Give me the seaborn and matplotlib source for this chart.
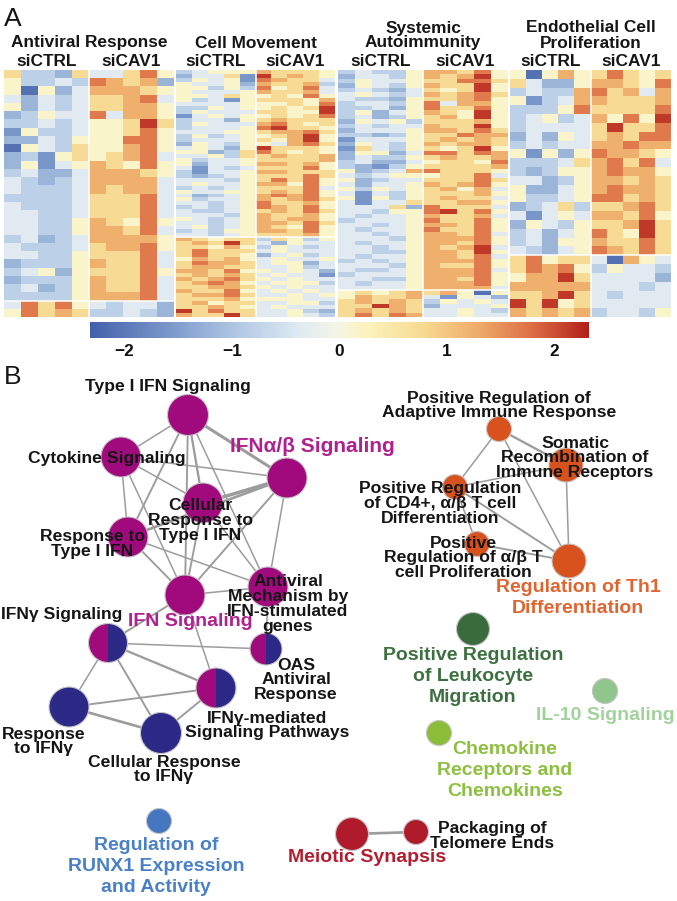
import matplotlib
matplotlib.use("Agg")
import numpy as np
import pandas as pd
import matplotlib.pyplot as plt
import seaborn as sns
from matplotlib.colors import LinearSegmentedColormap
from matplotlib.patches import Circle, Wedge

# ============================ DATA ============================
# z-score levels; each heat-map cell is written as one digit (0..9)
LEVELS = [-2.1, -1.6, -1.2, -0.8, -0.35, 0.15, 0.75, 1.25, 1.7, 2.15]
CONDITIONS = ["siCTRL", "siCAV1"]
REPLICATES = 5
CBAR_TICKS = [-2, -1, 0, 1, 2]
CBAR_LABELS = ["\u22122", "\u22121", "0", "1", "2"]

ANTIVIRAL_TITLE = ["Antiviral Response"]
ANTIVIRAL_MAIN = [
    "6332644685", "5334387672", "5052477765", "4243466784", "5243466775",
    "2354484775", "3343455696", "1533455685", "2243555885", "0543655785",
    "2315656784", "2514576585", "3422477765", "4323477774", "4333476774",
    "3333466684", "4333466684", "4433466684", "4433576585", "4433577684",
    "3423477775", "4333467785", "4433566684", "2333576684", "3452566685",
    "2333576684", "3423576684", "3333577784"]
ANTIVIRAL_LOW = ["4868543442", "5867633432"]

MOVEMENT_TITLE = ["Cell Movement"]
MOVEMENT_MAIN = [
    "3455576665", "2446196765", "3545187664", "5445276673", "5535385684",
    "5444576674", "5546556585", "5341566657", "4444555658", "3354556569",
    "3544466559", "1454556568", "3442567666", "3544478656", "3444589665",
    "4445567786", "3534556795", "3444565795", "2543554786", "4542596665",
    "5523686565", "4453667667", "5344566667", "5244577675", "4143466685",
    "3144577666", "3234566686", "4443568685", "4544577585", "3434566684",
    "5445567685", "4234578785", "5344576786", "4434586675", "3434587685",
    "4334567686", "4443576675", "5434576775", "4434577686", "4534576585",
    "3435577685", "4434566675"]
MOVEMENT_LOW = [
    "7656636535", "6769642544", "6657535434", "6866645444", "6866524534",
    "5767545445", "6877645524", "6776644534", "7768554542", "6767645441",
    "7678654544", "6787545553", "6677654544", "7668545454", "6778644545",
    "6667555544", "6756644553", "6676545444", "9686644532", "7669644543"]

AUTOIMMUNITY_TITLE = ["Systemic", "Autoimmunity"]
AUTOIMMUNITY_MAIN = [
    "3433577685", "2443576795", "3544566886", "2543576695", "3432465695",
    "4543476786", "4332566785", "3443584775", "3342586685", "3524576595",
    "3423567595", "2545366675", "3434476695", "2444577686", "3323566877",
    "1444567676", "2543576776", "1643565695", "2552488687", "2433567667",
    "3422456658", "3213566667", "5234786665", "4345556684", "5234466686",
    "4244576785", "5354567574", "4143566675", "5153567664", "4144666775",
    "4446286664", "4435589685", "4344576674", "3444586685", "4434577685",
    "4344586685", "4434577684", "4443577785", "4344577685", "4434576794",
    "4433577695", "4344577684", "3434577785", "4443576685", "4334577784",
    "3444577785", "4433577685", "4344577785", "4444577774"]
AUTOIMMUNITY_LOW = ["5656767505", "5766741542", "6767635454",
                    "6697624445", "6767644543", "6868744544"]

ENDOTHELIAL_TITLE = ["Endothelial Cell", "Proliferation"]
ENDOTHELIAL_MAIN = [
    "5057568656", "6422577658", "3433786747", "5134776667", "3335866668",
    "3453475859", "3444469668", "2425467688", "3434477877", "5152587765",
    "3334678684", "3235578775", "4423577676", "5224578776", "5334588676",
    "2346366786", "4145477685", "2543566796", "3424586596", "3425576686",
    "4324587686"]
ENDOTHELIAL_LOW = ["6856640754", "6878535443", "5779644442", "7777744434",
                   "6679643444", "9695644444", "7676734435"]

# ---- network (panel B) ----
NET_NODES = ["T1", "CYT", "IFNAB", "CRT1", "RT1", "IFNS", "AVM", "IFNG", "OAS",
             "IFNGM", "RIFNG", "CRIFNG", "PRAIR", "SRIR", "CD4", "ABP", "TH1",
             "LEUK", "IL10", "CHEMO", "RUNX1", "MEIO", "TELO"]
NET_GROUP = {"T1": "ifn", "CYT": "ifn", "IFNAB": "ifn", "CRT1": "ifn", "RT1": "ifn",
             "IFNS": "ifn", "AVM": "ifn", "IFNG": "mix", "OAS": "mix", "IFNGM": "mix",
             "RIFNG": "ifng", "CRIFNG": "ifng", "PRAIR": "th1", "SRIR": "th1",
             "CD4": "th1", "ABP": "th1", "TH1": "th1", "LEUK": "leuk", "IL10": "il10",
             "CHEMO": "chemo", "RUNX1": "runx1", "MEIO": "meio", "TELO": "meio"}
NET_LABEL = {
    "T1": ["Type I IFN Signaling"],
    "CYT": ["Cytokine Signaling"],
    "IFNAB": ["IFN\u03b1/\u03b2 Signaling"],
    "CRT1": ["Cellular", "Response to", "Type I IFN"],
    "RT1": ["Response to", "Type I IFN"],
    "IFNS": ["IFN Signaling"],
    "AVM": ["Antiviral", "Mechanism by", "IFN-stimulated", "genes"],
    "IFNG": ["IFN\u03b3 Signaling"],
    "OAS": ["OAS", "Antiviral", "Response"],
    "IFNGM": ["IFN\u03b3-mediated", "Signaling Pathways"],
    "RIFNG": ["Response", "to IFN\u03b3"],
    "CRIFNG": ["Cellular Response", "to IFN\u03b3"],
    "PRAIR": ["Positive Regulation of", "Adaptive Immune Response"],
    "SRIR": ["Somatic", "Recombination of", "Immune Receptors"],
    "CD4": ["Positive Regulation", "of CD4+, \u03b1/\u03b2 T cell", "Differentiation"],
    "ABP": ["Positive", "Regulation of \u03b1/\u03b2 T", "cell Proliferation"],
    "TH1": ["Regulation of Th1", "Differentiation"],
    "LEUK": ["Positive Regulation", "of Leukocyte", "Migration"],
    "IL10": ["IL-10 Signaling"],
    "CHEMO": ["Chemokine", "Receptors and", "Chemokines"],
    "RUNX1": ["Regulation of", "RUNX1 Expression", "and Activity"],
    "MEIO": ["Meiotic Synapsis"],
    "TELO": ["Packaging of", "Telomere Ends"],
}
# cluster-name labels (coloured) vs. ordinary member labels (black)
CLUSTER_LABELS = ["IFNAB", "IFNS", "TH1", "LEUK", "IL10", "CHEMO", "RUNX1", "MEIO"]
# edges with similarity strength class (1 weak .. 3.5 strong)
NET_EDGES = [
    ("T1", "CYT", 1), ("T1", "IFNAB", 3), ("T1", "CRT1", 2), ("T1", "RT1", 1.5),
    ("T1", "IFNS", 1.5), ("T1", "AVM", 1), ("CYT", "IFNAB", 1), ("CYT", "RT1", 1),
    ("CYT", "IFNS", 1), ("CYT", "CRT1", 1), ("IFNAB", "CRT1", 3.5), ("IFNAB", "RT1", 2.5),
    ("IFNAB", "IFNS", 1.5), ("IFNAB", "AVM", 1), ("CRT1", "IFNS", 1.5), ("CRT1", "AVM", 1),
    ("RT1", "IFNS", 1.5), ("RT1", "AVM", 1), ("IFNS", "AVM", 1), ("IFNS", "IFNG", 1.5),
    ("IFNS", "IFNGM", 1), ("AVM", "OAS", 1), ("IFNG", "OAS", 1), ("IFNG", "IFNGM", 2),
    ("IFNG", "RIFNG", 1), ("IFNG", "CRIFNG", 1.5), ("RIFNG", "IFNGM", 1.5),
    ("RIFNG", "CRIFNG", 2.5), ("CRIFNG", "IFNGM", 1.5),
    ("PRAIR", "SRIR", 2), ("PRAIR", "CD4", 1), ("PRAIR", "TH1", 1), ("SRIR", "TH1", 1),
    ("SRIR", "CD4", 1), ("CD4", "TH1", 1.5), ("CD4", "ABP", 1), ("ABP", "TH1", 1.5),
    ("MEIO", "TELO", 2.5),
]

# ============================ LAYOUT / STYLE ============================
W, H = 677, 901
HEAT_X = [(4, 174), (176, 335), (338, 508), (510, 671)]
HEAT_Y = (70, 317)
CBAR_BOX = (90, 322, 589, 338)
# node centre (x, y) and radius in pixels
NODE_POS = {
    "T1": (188, 415, 20.5), "CYT": (121, 457, 20), "IFNAB": (287, 478, 20),
    "CRT1": (203, 503, 20), "RT1": (128, 537, 20), "IFNS": (185, 595, 20),
    "AVM": (268, 587, 20), "IFNG": (108, 643, 19.5), "OAS": (266, 649, 16),
    "IFNGM": (216, 688, 20), "RIFNG": (69, 707, 20), "CRIFNG": (161, 733, 20.5),
    "PRAIR": (499, 429, 12.5), "SRIR": (566, 465, 17), "CD4": (455, 487, 12.5),
    "ABP": (477, 544, 12.5), "TH1": (569, 561, 17), "LEUK": (473, 629, 16.5),
    "IL10": (605, 691, 12.5), "CHEMO": (439, 733, 12.5), "RUNX1": (159, 821, 12.5),
    "MEIO": (352, 834, 16.5), "TELO": (416, 832, 12.5),
}
# label centre x, first-line centre y
LABEL_POS = {
    "T1": (168, 387), "CYT": (107, 458), "IFNAB": (312, 446), "CRT1": (200, 506),
    "RT1": (92, 537), "IFNS": (190, 622), "AVM": (288, 582), "IFNG": (62, 614),
    "OAS": (296, 665), "IFNGM": (267, 718), "RIFNG": (44, 734), "CRIFNG": (164, 762),
    "PRAIR": (499, 398), "SRIR": (575, 443), "CD4": (440, 489), "ABP": (463, 543),
    "TH1": (578, 588), "LEUK": (473, 656), "IL10": (605, 716), "CHEMO": (505, 750),
    "RUNX1": (156, 846), "MEIO": (367, 858), "TELO": (492, 829),
}
NODE_COLOR = {"ifn": "#a00a7c", "ifng": "#2c2a86", "th1": "#d8521e", "leuk": "#3a6b3c",
              "il10": "#90c68b", "chemo": "#8bbd38", "runx1": "#4577c0", "meio": "#b01b2b"}
LABEL_COLOR = {"ifn": "#b0208e", "th1": "#e0642f", "leuk": "#3d7040", "il10": "#a2d29c",
               "chemo": "#8dc041", "runx1": "#4a80c6", "meio": "#b51d2e"}

sns.set_theme(style="white")
plt.rcParams["font.family"] = ["Liberation Sans", "DejaVu Sans"]

cmap = LinearSegmentedColormap.from_list(
    "heat",
    [(0.00, "#4361ab"), (0.15, "#7895c9"), (0.28, "#abc3e1"), (0.41, "#dce8f2"),
     (0.49, "#f4f5e8"), (0.55, "#fcf3c0"), (0.67, "#f7d991"), (0.78, "#eeab69"),
     (0.89, "#dc6c43"), (1.00, "#b2201b")])
VMIN, VMAX = -2.32, 2.32

fig = plt.figure(figsize=(W / 100, H / 100), dpi=100)


def px_axes(x0, y0, x1, y1):
    return fig.add_axes([x0 / W, 1 - y1 / H, (x1 - x0) / W, (y1 - y0) / H])


def decode(rows):
    return [[LEVELS[int(c)] for c in r] for r in rows]


blocks = [
    (ANTIVIRAL_TITLE, ANTIVIRAL_MAIN, ANTIVIRAL_LOW),
    (MOVEMENT_TITLE, MOVEMENT_MAIN, MOVEMENT_LOW),
    (AUTOIMMUNITY_TITLE, AUTOIMMUNITY_MAIN, AUTOIMMUNITY_LOW),
    (ENDOTHELIAL_TITLE, ENDOTHELIAL_MAIN, ENDOTHELIAL_LOW),
]
cols = [f"{c}_{i+1}" for c in CONDITIONS for i in range(REPLICATES)]
cax = px_axes(*CBAR_BOX)

for bi, (title, main, low) in enumerate(blocks):
    x0, x1 = HEAT_X[bi]
    ax = px_axes(x0, HEAT_Y[0], x1, HEAT_Y[1])
    df = pd.DataFrame(decode(main) + decode(low), columns=cols)
    sns.heatmap(df, ax=ax, cmap=cmap, vmin=VMIN, vmax=VMAX,
                xticklabels=False, yticklabels=False,
                cbar=(bi == 0), cbar_ax=cax if bi == 0 else None,
                cbar_kws={"orientation": "horizontal"} if bi == 0 else None)
    ax.axvline(REPLICATES, color="white", lw=1.1)
    ax.axhline(len(main), color="white", lw=1.1)
    ax.set_xlabel("")
    ax.set_ylabel("")

cax.set_xticks(CBAR_TICKS)
cax.set_xticklabels(CBAR_LABELS, fontsize=12.4, fontweight="bold")
cax.tick_params(axis="x", length=0, pad=4, colors="#111111")
cax.tick_params(axis="y", length=0)
for s in cax.spines.values():
    s.set_visible(False)

# overlay axes in pixel coordinates
ov = fig.add_axes([0, 0, 1, 1])
ov.set_xlim(0, W)
ov.set_ylim(H, 0)
ov.axis("off")

TXT = "#151515"
ov.text(13, 19, "A", fontsize=19, ha="center", va="center", color=TXT)
ov.text(13, 377, "B", fontsize=19, ha="center", va="center", color=TXT)

for bi, (title, main, low) in enumerate(blocks):
    x0, x1 = HEAT_X[bi]
    xc = (x0 + x1) / 2
    n = len(title)
    for li, line in enumerate(title):
        y = 43 - (n - 1 - li) * 15
        ov.text(xc, y, line, fontsize=12.4, fontweight="bold", ha="center",
                va="center", color=TXT)
    half = (x1 - x0) / 2
    for ci, cond in enumerate(CONDITIONS):
        ov.text(x0 + half * (ci + 0.5), 62, cond, fontsize=12.4, fontweight="bold",
                ha="center", va="center", color=TXT)

# edges
for a, b, wgt in NET_EDGES:
    xa, ya, _ = NODE_POS[a]
    xb, yb, _ = NODE_POS[b]
    ov.plot([xa, xb], [ya, yb], color="#9c9c9c", lw=0.55 + 0.55 * wgt,
            solid_capstyle="round", zorder=1)

# nodes
for nid in NET_NODES:
    x, y, r = NODE_POS[nid]
    g = NET_GROUP[nid]
    if g == "mix":
        ov.add_patch(Wedge((x, y), r, 90, 270, facecolor=NODE_COLOR["ifn"],
                           edgecolor="none", zorder=2))
        ov.add_patch(Wedge((x, y), r, -90, 90, facecolor=NODE_COLOR["ifng"],
                           edgecolor="none", zorder=2))
        ov.add_patch(Circle((x, y), r, facecolor="none", edgecolor="#c4c4c4",
                            lw=0.8, zorder=3))
    else:
        ov.add_patch(Circle((x, y), r, facecolor=NODE_COLOR[g], edgecolor="#c4c4c4",
                            lw=0.8, zorder=2))

# labels
for nid in NET_NODES:
    lx, ly = LABEL_POS[nid]
    lines = NET_LABEL[nid]
    if nid in CLUSTER_LABELS:
        color = LABEL_COLOR[NET_GROUP[nid]]
        size, gap = 14, 20.5
        if nid == "IFNAB":
            size = 15
    else:
        color = TXT
        size, gap = 12.6, 14.7
    for li, line in enumerate(lines):
        ov.text(lx, ly + li * gap, line, fontsize=size, fontweight="bold",
                ha="center", va="center", color=color, zorder=5)

fig.savefig("out.png", dpi=100)
